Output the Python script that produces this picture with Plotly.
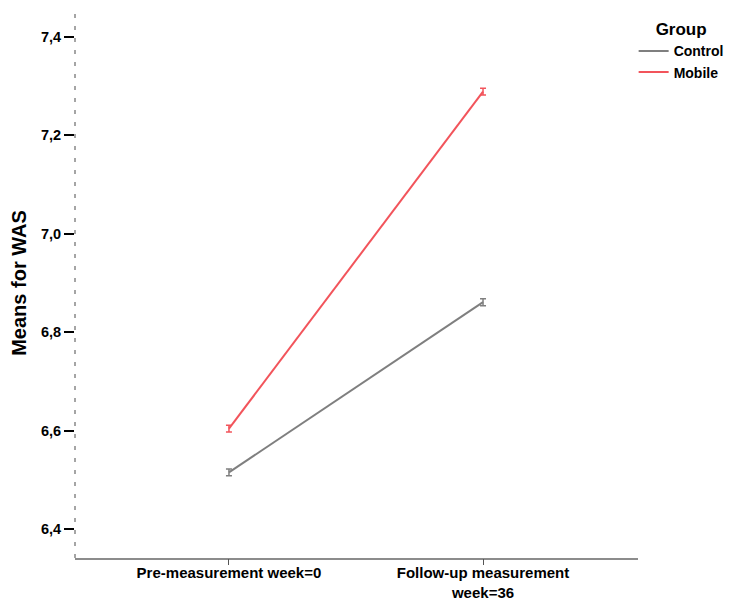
import plotly.graph_objects as go

categories = ["Pre-measurement week=0", "Follow-up measurement<br>week=36"]
control_means = [6.515, 6.861]
mobile_means = [6.604, 7.289]
control_err = [0.007, 0.007]
mobile_err = [0.007, 0.007]
y_ticks = [6.4, 6.6, 6.8, 7.0, 7.2, 7.4]

GREY = "#7f7f7f"
RED = "#f2545b"
FONT = "Liberation Sans, Arial, sans-serif"
X_RANGE = [-0.606, 1.61]
cat_index = list(range(len(categories)))

fig = go.Figure()
fig.add_trace(go.Scatter(
    x=categories, y=control_means, mode="lines", name="Control",
    line=dict(color=GREY, width=2),
    error_y=dict(type="data", array=control_err, color=GREY, thickness=1.5, width=3),
))
fig.add_trace(go.Scatter(
    x=categories, y=mobile_means, mode="lines", name="Mobile",
    line=dict(color=RED, width=2),
    error_y=dict(type="data", array=mobile_err, color=RED, thickness=1.5, width=3),
))
# helper (invisible) trace so the tick-mark axis is drawn
fig.add_trace(go.Scatter(
    x=cat_index, y=[None] * len(cat_index), xaxis="x2", mode="lines",
    showlegend=False, hoverinfo="skip", line=dict(width=0),
))

fig.add_shape(type="line", xref="paper", yref="paper", x0=0, x1=0, y0=0, y1=1,
              line=dict(color="#888888", width=1.5, dash="4px,8px"))

fig.update_layout(
    width=730, height=600,
    margin=dict(l=75, r=92, t=8, b=42, autoexpand=False),
    plot_bgcolor="white", paper_bgcolor="white",
    separators=",.",
    font=dict(family=FONT, color="black", size=13),
    showlegend=True,
    legend=dict(
        xref="container", yref="container",
        x=0.868, y=0.978, xanchor="left", yanchor="top",
        title=dict(text="Group", font=dict(size=17, weight="bold"), side="top center"),
        font=dict(size=14, family=FONT, weight="bold"), tracegroupgap=0, itemwidth=30,
        bgcolor="rgba(0,0,0,0)",
    ),
    xaxis=dict(
        type="category", range=X_RANGE, automargin=False,
        showline=True, linecolor="#8c8c8c", linewidth=2,
        ticks="", showgrid=False, zeroline=False,
        tickfont=dict(size=15, family=FONT, weight="bold"),
    ),
    xaxis2=dict(
        overlaying="x", anchor="y", side="bottom", type="linear",
        range=X_RANGE, tickvals=cat_index, automargin=False,
        showticklabels=False, showline=False, showgrid=False, zeroline=False,
        ticks="outside", ticklen=6, tickcolor="#555555", tickwidth=1,
    ),
    yaxis=dict(
        range=[6.341, 7.459], tickvals=y_ticks, tickformat=".1f", automargin=False,
        showline=False, showgrid=False, zeroline=False,
        ticks="outside", ticklen=10, tickcolor="black", tickwidth=1.5,
        tickfont=dict(size=14.5, family=FONT, weight="bold"),
        title=dict(text="Means for WAS", font=dict(size=20, family=FONT, weight="bold"), standoff=8),
    ),
)

fig.write_html("out.html", config={"displayModeBar": False},
               post_script="document.body.style.margin='0px';")
